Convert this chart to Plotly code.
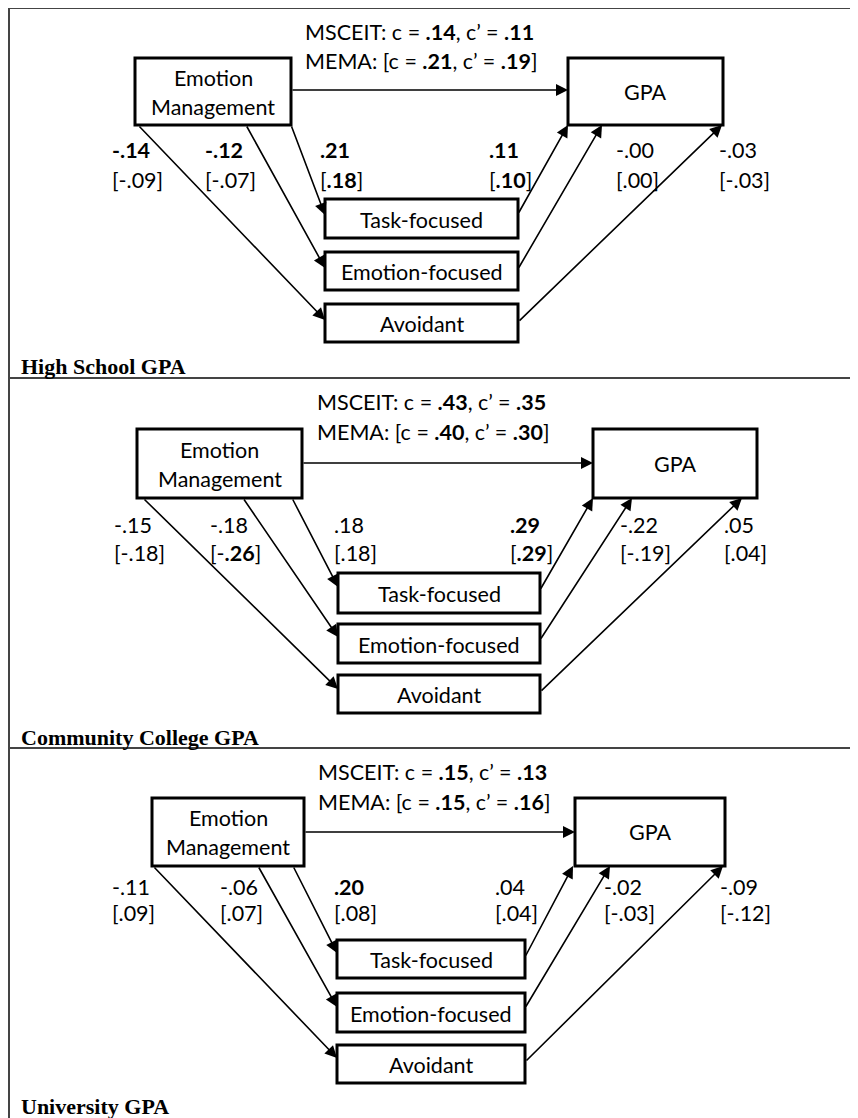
import plotly.graph_objects as go

# ---------------- data ----------------
panel_titles = ["High School GPA", "Community College GPA", "University GPA"]
mediators = ["Task-focused", "Emotion-focused", "Avoidant"]
predictor = "Emotion Management"
outcome = "GPA"

# total (c) and direct (c') effects
msceit_c = [".14", ".43", ".15"]
msceit_cp = [".11", ".35", ".13"]
mema_c = [".21", ".40", ".15"]
mema_cp = [".19", ".30", ".16"]

# a paths (Emotion Management -> mediator), order: task, emotion, avoidant
a_msceit = [[".21", "-.12", "-.14"], [".18", "-.18", "-.15"], [".20", "-.06", "-.11"]]
a_mema = [[".18", "-.07", "-.09"], [".18", "-.26", "-.18"], [".08", ".07", ".09"]]
a_msceit_bold = [[True, True, True], [False, False, False], [True, False, False]]
a_mema_bold = [[True, False, False], [False, True, False], [False, False, False]]

# b paths (mediator -> GPA)
b_msceit = [[".11", "-.00", "-.03"], [".29", "-.22", ".05"], [".04", "-.02", "-.09"]]
b_mema = [[".10", ".00", "-.03"], [".29", "-.19", ".04"], [".04", "-.03", "-.12"]]
b_msceit_bold = [[True, False, False], [True, False, False], [False, False, False]]
b_mema_bold = [[True, False, False], [True, False, False], [False, False, False]]

# ---------------- layout geometry (page pixels) ----------------
geo = [
    dict(em=(135, 291, 58, 125), gpa=(568, 723, 58, 125), med_x=(325, 518),
         med_y=[(199, 238), (252, 290), (304, 342)], direct_y=90, txt_x=303, txt_y=(32, 61),
         em_src=[291, 246, 138], tip_y=[215, 268, 320], src_y=[214, 269, 322],
         gpa_dst=[568, 602, 722], a_lab_x=[318, 203, 110], b_lab_x=[487, 614, 717],
         lab_y=(150, 180), title_y=366),
    dict(em=(137, 302, 429, 498), gpa=(593, 757, 429, 498), med_x=(338, 540),
         med_y=[(573, 613), (624, 663), (675, 713)], direct_y=463, txt_x=315, txt_y=(402, 432),
         em_src=[292, 243, 143], tip_y=[587, 637, 689], src_y=[590, 640, 692],
         gpa_dst=[593, 632, 742], a_lab_x=[332, 208, 112], b_lab_x=[508, 618, 722],
         lab_y=(525, 553), title_y=737),
    dict(em=(152, 304, 798, 866), gpa=(575, 725, 798, 866), med_x=(337, 525),
         med_y=[(940, 978), (993, 1032), (1045, 1083)], direct_y=832, txt_x=316, txt_y=(772, 802),
         em_src=[293, 258, 153], tip_y=[953, 1007, 1058], src_y=[957, 1008, 1062],
         gpa_dst=[573, 610, 723], a_lab_x=[332, 218, 110], b_lab_x=[493, 602, 718],
         lab_y=(887, 913), title_y=1106),
]
separators_y = [8, 378, 748]

# page is offset by the default 8px body margin; map data units to page pixels
OFF = 8
PAGE_W, PAGE_H = 858, 1118
W, H = PAGE_W - OFF, PAGE_H - OFF
FONT = "Lato, Calibri, Carlito, sans-serif"
FS = 21.5
SERIF = "Liberation Serif, Times New Roman, serif"


def b(s, flag):
    return f"<b>{s}</b>" if flag else s


def br(s, flag):
    if flag:
        if s.startswith("-"):
            return f"[-<b>{s[1:]}</b>]"
        return f"[<b>{s}</b>]"
    return f"[{s}]"


shapes = []
annotations = []

# frame lines
shapes.append(dict(type="line", x0=9, x1=9, y0=8, y1=PAGE_H, line=dict(color="#444", width=2)))
for sy in separators_y:
    shapes.append(dict(type="line", x0=9, x1=PAGE_W, y0=sy, y1=sy, line=dict(color="#444", width=2)))


def text(x, y, s, xanchor="center", size=FS, family=FONT, color="black"):
    annotations.append(dict(x=x, y=y, xref="x", yref="y", text=s, showarrow=False,
                            xanchor=xanchor, yanchor="middle",
                            font=dict(family=family, size=size, color=color)))


def arrow(x0, y0, x1, y1):
    annotations.append(dict(x=x1, y=y1, ax=x0, ay=y0, xref="x", yref="y", axref="x", ayref="y",
                            text="", showarrow=True, arrowhead=2, arrowsize=1.5,
                            arrowwidth=1.6, arrowcolor="black", standoff=0, startstandoff=0))


for p, g in enumerate(geo):
    ex0, ex1, ey0, ey1 = g["em"]
    gx0, gx1, gy0, gy1 = g["gpa"]
    arrow(ex1, g["direct_y"], gx0, g["direct_y"])
    mx0, mx1 = g["med_x"]
    for i in range(3):
        arrow(g["em_src"][i], ey1, mx0, g["tip_y"][i])
        arrow(mx1, g["src_y"][i], g["gpa_dst"][i], gy1)

    shapes.append(dict(type="rect", x0=ex0, x1=ex1, y0=ey0, y1=ey1,
                       line=dict(color="black", width=3), fillcolor="white"))
    shapes.append(dict(type="rect", x0=gx0, x1=gx1, y0=gy0, y1=gy1,
                       line=dict(color="black", width=3), fillcolor="white"))
    for i in range(3):
        my0, my1 = g["med_y"][i]
        shapes.append(dict(type="rect", x0=mx0, x1=mx1, y0=my0, y1=my1,
                           line=dict(color="black", width=3), fillcolor="white"))
        text((mx0 + mx1) / 2, (my0 + my1) / 2 + 1, mediators[i])

    emy = (ey0 + ey1) / 2
    words = predictor.split(" ")
    text((ex0 + ex1) / 2, emy - 14, words[0])
    text((ex0 + ex1) / 2, emy + 15, words[1])
    text((gx0 + gx1) / 2, (gy0 + gy1) / 2, outcome)

    text(g["txt_x"], g["txt_y"][0],
         f"MSCEIT: c = <b>{msceit_c[p]}</b>, c’ = <b>{msceit_cp[p]}</b>", xanchor="left")
    text(g["txt_x"], g["txt_y"][1],
         f"MEMA: [c = <b>{mema_c[p]}</b>, c’ = <b>{mema_cp[p]}</b>]", xanchor="left")

    for i in range(3):
        text(g["a_lab_x"][i], g["lab_y"][0], b(a_msceit[p][i], a_msceit_bold[p][i]), xanchor="left")
        text(g["a_lab_x"][i], g["lab_y"][1], br(a_mema[p][i], a_mema_bold[p][i]), xanchor="left")
        text(g["b_lab_x"][i], g["lab_y"][0], b(b_msceit[p][i], b_msceit_bold[p][i]), xanchor="left")
        text(g["b_lab_x"][i], g["lab_y"][1], br(b_mema[p][i], b_mema_bold[p][i]), xanchor="left")

    text(19, g["title_y"], f"<b>{panel_titles[p]}</b>", xanchor="left", size=22, family=SERIF)

fig = go.Figure()
fig.update_layout(
    width=W, height=H, margin=dict(l=0, r=0, t=0, b=0),
    paper_bgcolor="white", plot_bgcolor="white",
    xaxis=dict(range=[OFF, PAGE_W], visible=False, fixedrange=True),
    yaxis=dict(range=[PAGE_H, OFF], visible=False, fixedrange=True),
    shapes=shapes, annotations=annotations, showlegend=False,
)
fig.write_html("out.html")
